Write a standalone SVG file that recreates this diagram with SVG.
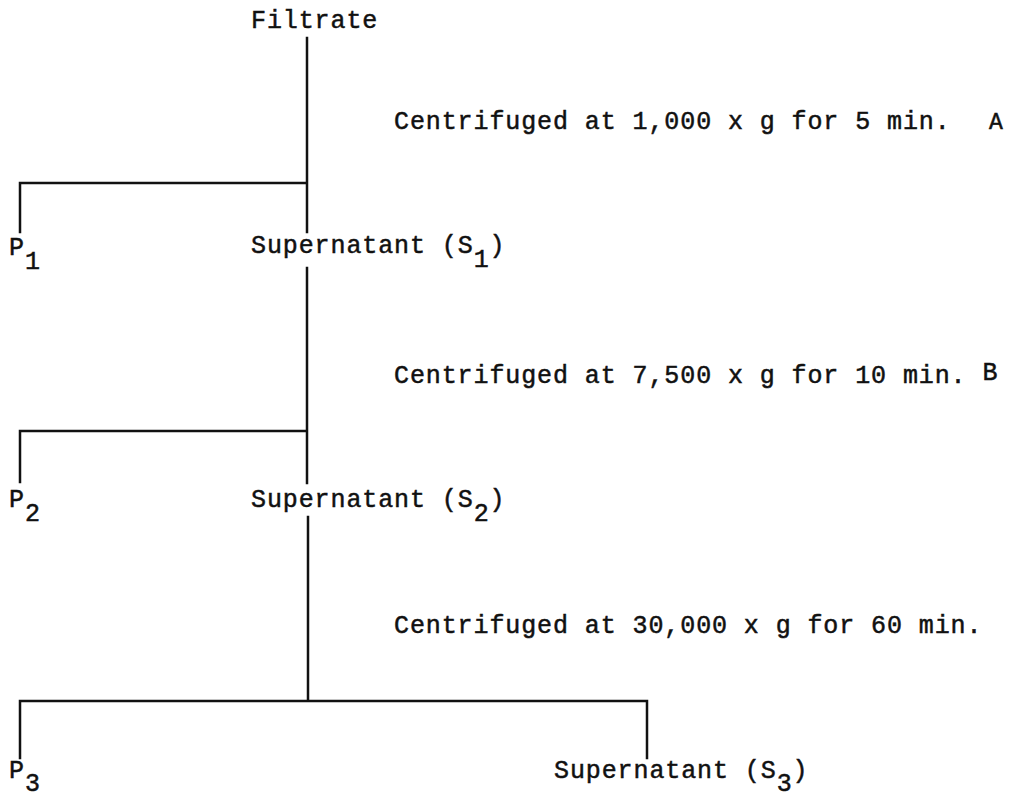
<svg xmlns="http://www.w3.org/2000/svg" width="1009" height="796" viewBox="0 0 1009 796">
<style>
  text { font-family: "Liberation Mono", "DejaVu Sans Mono", monospace; font-size: 25px; letter-spacing: 0.9px; fill: #111; stroke: #111; stroke-width: 0.5px; }
  .small { font-size: 23px; }
  .ln { stroke: #111; stroke-width: 2.5; fill: none; stroke-linecap: square; }
</style>
<rect width="1009" height="796" fill="#fff"/>
<g id="connectors">
  <path class="ln" d="M307,38 V232 M307,183 H20 V232"/>
  <path class="ln" d="M307,268 V483 M307,431 H20 V482"/>
  <path class="ln" d="M308,517 V701 M20,701 H647 M20,701 V758 M647,701 V758"/>
</g>
<g id="filtrate"><text x="251" y="28">Filtrate</text></g>
<g id="stepA">
  <text x="394" y="129">Centrifuged at 1,000 x g for 5 min.</text>
  <text class="small" x="989" y="129">A</text>
</g>
<g id="p1"><text x="9" y="255">P<tspan dy="14">1</tspan></text></g>
<g id="s1"><text x="251" y="253">Supernatant (S<tspan dy="14">1</tspan><tspan dy="-14">)</tspan></text></g>
<g id="stepB">
  <text x="394" y="383">Centrifuged at 7,500 x g for 10 min. <tspan dy="-3">B</tspan></text>
</g>
<g id="p2"><text x="9" y="507">P<tspan dy="14">2</tspan></text></g>
<g id="s2"><text x="251" y="507">Supernatant (S<tspan dy="14">2</tspan><tspan dy="-14">)</tspan></text></g>
<g id="stepC"><text x="394" y="633">Centrifuged at 30,000 x g for 60 min.</text></g>
<g id="p3"><text x="9" y="778">P<tspan dy="13">3</tspan></text></g>
<g id="s3"><text x="554" y="778">Supernatant (S<tspan dy="13">3</tspan><tspan dy="-13">)</tspan></text></g>
</svg>
